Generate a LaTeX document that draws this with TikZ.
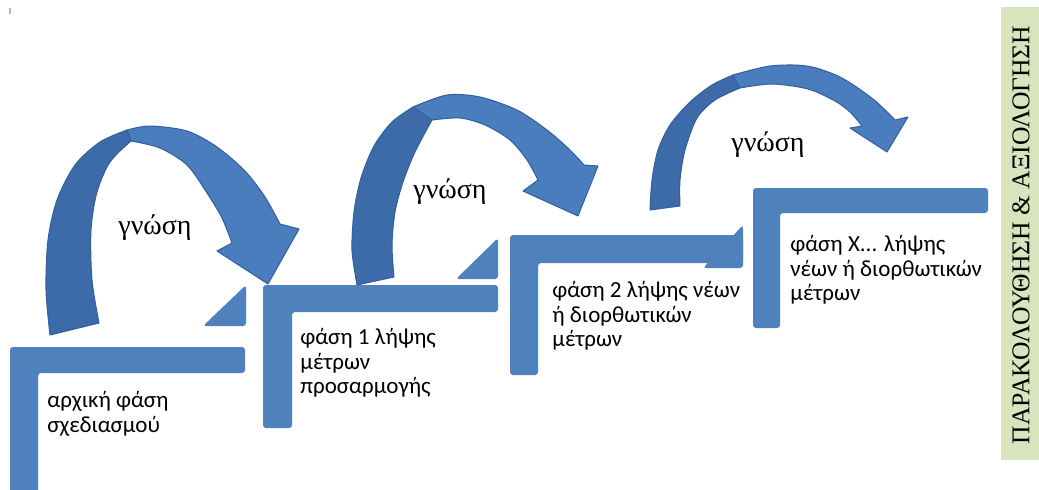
\documentclass[tikz,border=0pt]{standalone}
\usepackage{fontspec}
\setmainfont{Liberation Serif}
\newfontfamily\stepfont{Carlito}
\definecolor{stepblue}{HTML}{4F81BD}
\definecolor{arrowfront}{HTML}{4A7DBE}
\definecolor{arrowback}{HTML}{3D6AA8}
\definecolor{arrowedge}{HTML}{33609A}
\definecolor{sidegreen}{HTML}{D7E4BD}
\tikzset{
  stepbar/.style={fill=stepblue, rounded corners=1.5},
  arrowfrontpart/.style={fill=arrowfront, draw=arrowedge, line width=0.5pt, line join=round},
  arrowbackpart/.style={fill=arrowback, draw=arrowedge, line width=0.5pt, line join=round},
  steptext/.style={font=\stepfont\fontsize{11.5}{12.3}\selectfont, align=left, anchor=north west, inner sep=0pt},
  gnosi/.style={font=\fontsize{14}{16}\selectfont, inner sep=0pt},
}
\begin{document}
\begin{tikzpicture}[x=0.5pt,y=-0.5pt]
\useasboundingbox (0,0) rectangle (1039,489);
\fill[white] (0,0) rectangle (1039,489);
\fill[gray!55] (9,8) rectangle (11,14);

% --- step brackets (L shapes) and their small triangles ---
\fill[stepbar] (10,347) -- (245,347) -- (245,373) -- (38,373) -- (38,495) -- (10,495) -- cycle;
\fill[stepbar] (203,326) -- (246,326) -- (246,285) -- cycle;

\fill[stepbar] (263,285) -- (498,285) -- (498,312) -- (292,312) -- (292,428) -- (263,428) -- cycle;
\fill[stepbar] (456,279) -- (498,279) -- (498,238) -- cycle;

\fill[stepbar] (510,235) -- (743,235) -- (743,263) -- (538,263) -- (538,375) -- (510,375) -- cycle;
\fill[stepbar] (703,268) -- (743,268) -- (743,225) -- cycle;

\fill[stepbar] (753,188) -- (988,188) -- (988,213) -- (780,213) -- (780,328) -- (753,328) -- cycle;

% --- curved arrow 1 ---
\filldraw[arrowbackpart] plot[smooth] coordinates {(127,130) (100,142) (75,165) (57,200) (48,240) (46,290) (50,335)}
  -- (99,323) -- plot[smooth] coordinates {(99,323) (92,280) (91,230) (97,192) (110,162) (131,141)} -- cycle;
\filldraw[arrowfrontpart] plot[smooth] coordinates {(127,130) (150,126) (187,131) (217,147) (245,171) (265,197) (280,224)}
  -- (299,229) -- (268,284) -- (217,251) -- (232,243)
  -- plot[smooth] coordinates {(232,243) (222,218) (207,193) (187,165) (160,148) (131,141)} -- cycle;

% --- curved arrow 2 ---
\filldraw[arrowbackpart] plot[smooth] coordinates {(413,107) (392,122) (374,146) (361,178) (354,212) (352,250) (357,285)}
  -- (394,277) -- plot[smooth] coordinates {(394,277) (392,245) (395,212) (403,182) (415,152) (432,120)} -- cycle;
\filldraw[arrowfrontpart] plot[smooth] coordinates {(413,107) (447,95) (480,97) (517,110) (547,130) (570,150) (584,165)}
  -- (598,166) -- (578,216) -- (523,191) -- (538,180)
  -- plot[smooth] coordinates {(538,180) (527,160) (510,140) (485,125) (460,118) (432,120)} -- cycle;

% --- curved arrow 3 ---
\filldraw[arrowbackpart] plot[smooth] coordinates {(733,75) (712,85) (690,102) (670,125) (658,150) (652,180) (650,210)}
  -- (680,206) -- plot[smooth] coordinates {(680,206) (680,180) (685,150) (697,118) (715,100) (740,88)} -- cycle;
\filldraw[arrowfrontpart] plot[smooth] coordinates {(733,75) (770,66) (807,66) (840,77) (873,99) (895,120)}
  -- (908,117) -- (887,152) -- (850,128) -- (862,126)
  -- plot[smooth] coordinates {(862,126) (850,112) (835,101) (808,89) (772,84) (740,88)} -- cycle;

% --- labels ---
\node[gnosi] (g1) at (155,228) {γνώση};
\node[gnosi] (g2) at (450,192) {γνώση};
\node[gnosi] (g3) at (768,145) {γνώση};

\node[steptext] (s1) at (47,391) {αρχική φάση\\σχεδιασμού};
\node[steptext] (s2) at (300,328) {φάση 1 λήψης\\μέτρων\\προσαρμογής};
\node[steptext] (s3) at (552,281) {φάση 2 λήψης νέων\\ή διορθωτικών\\μέτρων};
\node[steptext] (s4) at (790,235) {φάση X... λήψης\\νέων ή διορθωτικών\\μέτρων};

% --- side band ---
\fill[sidegreen] (1001,7) rectangle (1039,460);
\node[rotate=90, font=\fontsize{12.8}{15}\selectfont, inner sep=0pt] (side) at (1021,235) {ΠΑΡΑΚΟΛΟΥΘΗΣΗ \& ΑΞΙΟΛΟΓΗΣΗ};
\end{tikzpicture}
\end{document}
